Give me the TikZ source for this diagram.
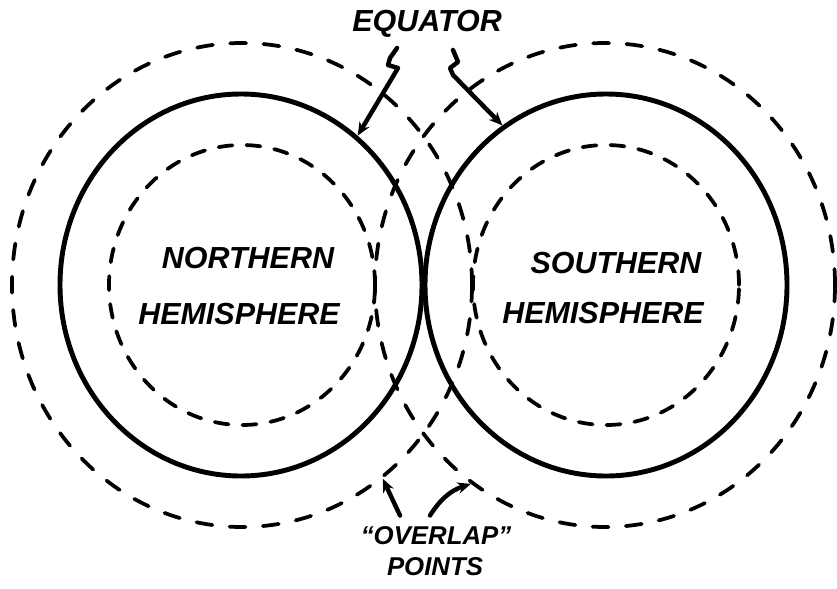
\documentclass[tikz,border=0pt]{standalone}
\usepackage{fontspec}
\newfontfamily\handfont{Liberation Sans}
\usetikzlibrary{arrows.meta, positioning, shapes.geometric}

\begin{document}
\begin{tikzpicture}[x=0.3mm, y=-0.3mm,
    rim/.style={draw, ellipse, line width=4.2pt, minimum width=108.6mm, minimum height=114.6mm},
    core/.style={draw, ellipse, line width=3.2pt, line cap=round, dash pattern=on 4.2mm off 4.2mm, minimum width=79.8mm, minimum height=84mm},
    halo/.style={draw, ellipse, line width=3.2pt, line cap=round, dash pattern=on 4.8mm off 5.2mm, minimum width=138mm, minimum height=145.2mm},
    tag/.style={font=\handfont\bfseries\itshape\fontsize{26}{30}\selectfont, inner sep=1pt},
    smalltag/.style={font=\handfont\bfseries\itshape\fontsize{22}{26}\selectfont, inner sep=1pt},
    pointer/.style={line width=3.8pt, line join=round, line cap=round, -{Stealth[length=4mm,width=3.4mm]}}]
    \useasboundingbox (0,0) rectangle (837,588);

    % Hemispheres
    \node[rim] (northrim) at (241,285) {};
    \node[rim] (southrim) at (606,285) {};

    % Dashed rings inside and outside
    \node[core] (northcore) at (242,285) {};
    \node[core] (southcore) at (606,285) {};
    \node[halo] (northhalo) at (242,285) {};
    \node[halo] (southhalo) at (605,285) {};

    % Names
    \node[tag] (northname) at (248,258) {NORTHERN};
    \node[tag] (northword) at (239,314) {HEMISPHERE};
    \node[tag] (southname) at (616,263) {SOUTHERN};
    \node[tag] (southword) at (603,313) {HEMISPHERE};

    % Equator
    \node[tag] (equator) at (427,24) {EQUATOR};
    \coordinate (zl) at (397,48);
    \coordinate (zr) at (453,50);
    \draw[pointer] (zl) -- ++(-7,10) -- ++(-2,7) -- ++(10,3) -- (northrim.52.8);
    \draw[pointer] (zr) -- ++(5,12) -- ++(-8,6) -- ++(3,7) -- (southrim.123);

    % Overlap points
    \node[smalltag] (overlap) at (436,536) {“OVERLAP”};
    \node[smalltag] (points) at (435,567) {POINTS};
    \draw[pointer] ([xshift=-10.8mm,yshift=3mm]overlap.north) -- (northhalo.-54.5);
    \draw[pointer] ([xshift=-1.8mm,yshift=3mm]overlap.north) to[bend left=20] (southhalo.-124.8);
\end{tikzpicture}
\end{document}
